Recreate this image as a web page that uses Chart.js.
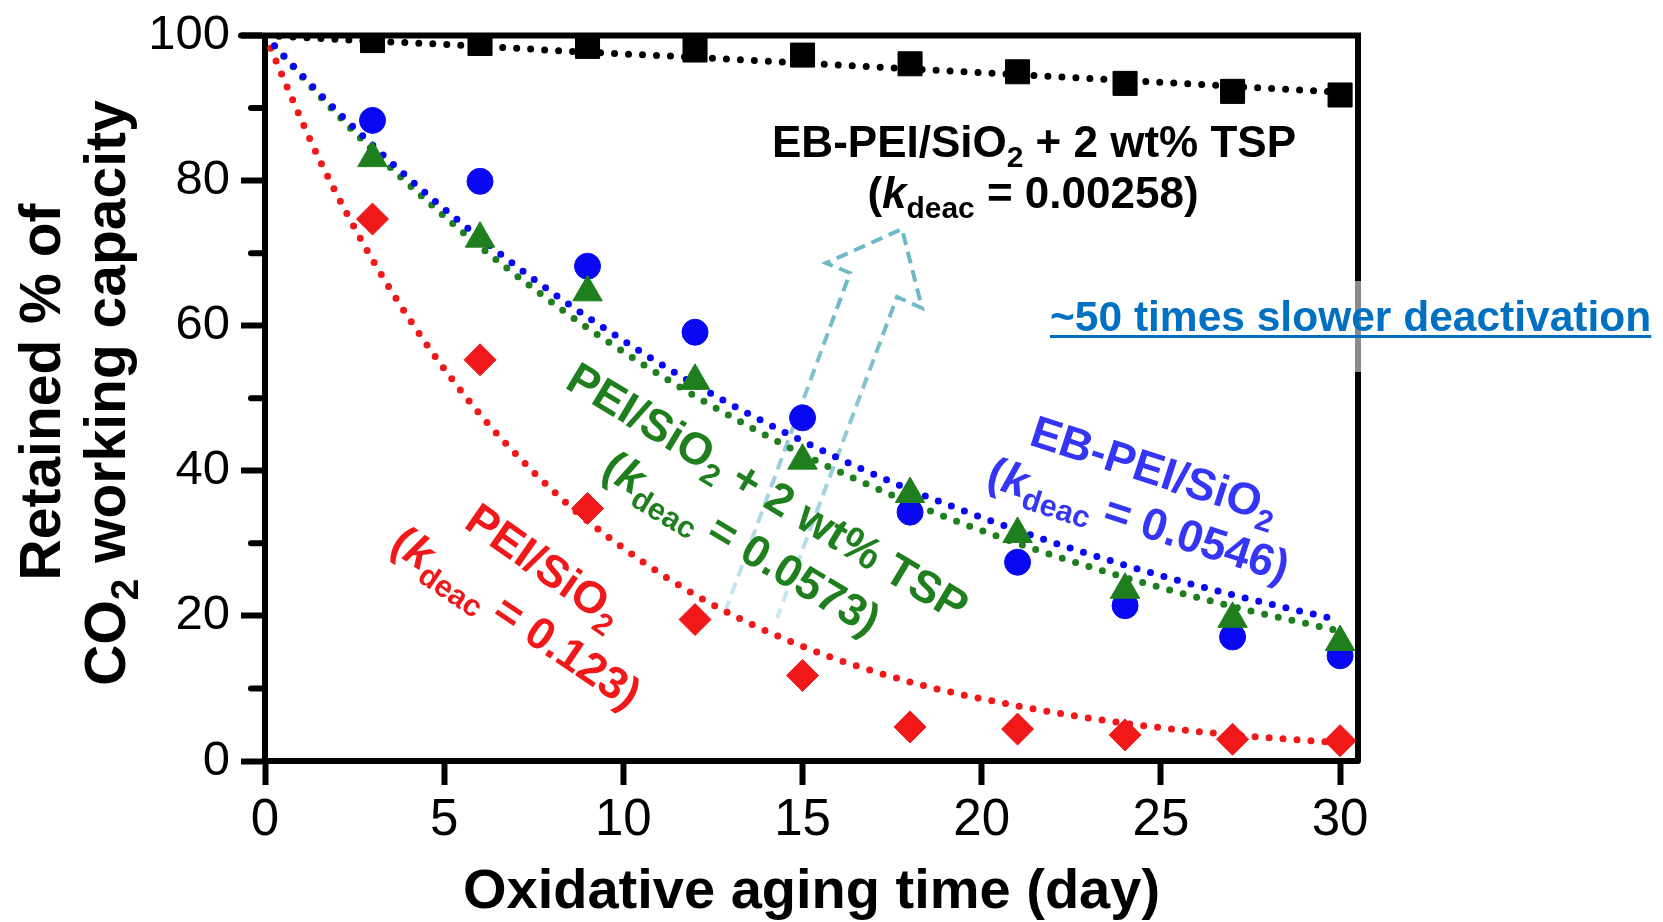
<!DOCTYPE html>
<html>
<head>
<meta charset="utf-8">
<script src="https://cdn.jsdelivr.net/npm/chart.js@4.4.1/dist/chart.umd.min.js"></script>
<style>
  body { margin: 0; background: #fff; }
  canvas { display: block; }
</style>
</head>
<body>
<canvas id="agingChart" width="1663" height="922"></canvas>
<script>
// Measured points (day 3..30)
const days = [3, 6, 9, 12, 15, 18, 21, 24, 27, 30];
const ebPeiTsp = [99.3, 98.9, 98.5, 98.0, 97.3, 96.1, 95.0, 93.4, 92.3, 91.8];
const ebPei = [88.3, 79.9, 68.2, 59.1, 47.3, 34.3, 27.4, 21.4, 17.1, 14.5];
const peiTsp = [83.1, 72.0, 64.6, 52.4, 41.4, 36.8, 31.3, 23.6, 19.6, 16.4];
const pei = [74.7, 55.3, 34.8, 19.5, 11.8, 4.7, 4.4, 3.6, 3.0, 2.8];

// Dotted fit curves
const fitDays = [0, 1.5, 3, 4.5, 6, 7.5, 9, 12, 15, 18, 21, 24, 27, 30];
const fitEbPeiTsp = [100, 99.6, 99.2, 98.9, 98.5, 98.1, 97.7, 97.0, 96.2, 95.4, 94.6, 93.8, 93.0, 92.2];
const fitEbPei = [100, 92.1, 84.9, 78.2, 72.1, 66.4, 61.2, 51.9, 44.1, 37.4, 31.8, 27.0, 22.9, 19.4];
const fitPeiTsp = [100, 91.8, 84.2, 77.3, 70.9, 65.1, 59.7, 50.3, 42.3, 35.6, 30.0, 25.3, 21.3, 17.9];
const fitPei = [100, 83.1, 69.1, 57.5, 47.8, 39.8, 33.1, 22.9, 15.8, 10.9, 7.6, 5.2, 3.6, 2.5];

const xTicks = [0, 5, 10, 15, 20, 25, 30];
const yTicks = [0, 20, 40, 60, 80, 100];
const yMinorTicks = [10, 30, 50, 70, 90];

const FONT = '"Liberation Sans", Arial, sans-serif';
const RED = "#f01818";
const BLUE = "#0808f2";
const GREEN = "#1f7f1f";

const pts = (xs, ys) => xs.map((x, i) => ({ x: x, y: ys[i] }));

function fitLine(xs, ys, color) {
  return {
    data: pts(xs, ys),
    borderColor: color,
    borderWidth: 7,
    borderDash: [0, 14],
    borderCapStyle: "round",
    pointRadius: 0,
    cubicInterpolationMode: "monotone",
    fill: false,
    order: 10,
  };
}

function markers(ys, color, style, radius, order) {
  return {
    data: pts(days, ys),
    showLine: false,
    pointStyle: style,
    pointRadius: radius,
    pointBackgroundColor: color,
    pointBorderColor: color,
    pointBorderWidth: 1,
    order: order,
  };
}

// text with subscripts / italics, centred on (x, y) baseline, rotated
function drawRich(ctx, runs, x, y, size, color, angle) {
  ctx.save();
  ctx.translate(x, y);
  ctx.rotate((angle * Math.PI) / 180);
  ctx.fillStyle = color;
  ctx.textBaseline = "alphabetic";
  ctx.textAlign = "left";
  const fontFor = (r) =>
    (r.it ? "italic " : "") + "bold " + (r.sub ? size * 0.68 : size) + "px " + FONT;
  let total = 0;
  runs.forEach((r) => {
    ctx.font = fontFor(r);
    total += ctx.measureText(r.t).width;
  });
  let cx = -total / 2;
  runs.forEach((r) => {
    ctx.font = fontFor(r);
    ctx.fillText(r.t, cx, r.sub ? size * 0.22 : 0);
    cx += ctx.measureText(r.t).width;
  });
  ctx.restore();
}

const kRuns = (val) => [
  { t: "(" },
  { t: "k", it: true },
  { t: "deac", sub: true },
  { t: " = " + val + ")" },
];

const decor = {
  id: "decor",
  beforeDatasetsDraw(chart) {
    const ctx = chart.ctx;
    // hollow dashed arrow
    const grad = ctx.createLinearGradient(0, 620, 0, 300);
    grad.addColorStop(0, "rgba(200,232,240,0.9)");
    grad.addColorStop(0.5, "rgba(150,205,218,1)");
    grad.addColorStop(1, "rgb(110,185,200)");
    ctx.save();
    ctx.strokeStyle = grad;
    ctx.lineWidth = 4;
    ctx.setLineDash([12, 7]);
    ctx.beginPath();
    ctx.moveTo(725, 612);
    ctx.lineTo(850, 273);
    ctx.lineTo(826, 263);
    ctx.lineTo(902, 229);
    ctx.lineTo(922, 308);
    ctx.lineTo(897, 297);
    ctx.lineTo(777, 618);
    ctx.stroke();
    ctx.restore();
  },
  afterDatasetsDraw(chart) {
    const ctx = chart.ctx;
    const a = chart.chartArea;
    const ys = chart.scales.y;

    // frame (top + right)
    ctx.save();
    ctx.strokeStyle = "#000";
    ctx.lineWidth = 6;
    ctx.lineCap = "round";
    ctx.beginPath();
    ctx.moveTo(a.left - 24, a.top);
    ctx.lineTo(a.right, a.top);
    ctx.lineTo(a.right, a.bottom);
    ctx.stroke();
    // minor y ticks
    yMinorTicks.forEach((v) => {
      const py = ys.getPixelForValue(v);
      ctx.beginPath();
      ctx.moveTo(a.left, py);
      ctx.lineTo(a.left - 14, py);
      ctx.stroke();
    });
    // grey patch on right frame behind the note
    ctx.lineCap = "butt";
    ctx.strokeStyle = "#8a8a8a";
    ctx.beginPath();
    ctx.moveTo(a.right, 281);
    ctx.lineTo(a.right, 372);
    ctx.stroke();
    ctx.restore();

    // y title (two lines, rotated)
    drawRich(ctx, [{ t: "Retained % of" }], 60, 392, 57, "#000", -90);
    drawRich(ctx, [{ t: "CO" }, { t: "2", sub: true }, { t: " working capacity" }], 125, 393, 57, "#000", -90);

    // series annotations
    drawRich(ctx, [{ t: "EB-PEI/SiO" }, { t: "2", sub: true }, { t: " + 2 wt% TSP" }], 1034, 157, 44, "#000", 0);
    drawRich(ctx, kRuns("0.00258"), 1033, 208, 44, "#000", 0);

    drawRich(ctx, [{ t: "EB-PEI/SiO" }, { t: "2", sub: true }], 1150, 484, 45, "#3535f5", 18);
    drawRich(ctx, kRuns("0.0546"), 1134, 534, 45, "#3535f5", 18);

    drawRich(ctx, [{ t: "PEI/SiO" }, { t: "2", sub: true }, { t: " + 2 wt% TSP" }], 760, 505, 45, GREEN, 31);
    drawRich(ctx, kRuns("0.0573"), 734, 556, 45, GREEN, 31);

    drawRich(ctx, [{ t: "PEI/SiO" }, { t: "2", sub: true }], 536, 578, 45, RED, 35);
    drawRich(ctx, kRuns("0.123"), 508, 630, 45, RED, 34);

    // blue underlined note
    ctx.save();
    ctx.font = "bold 42.5px " + FONT;
    ctx.fillStyle = "#0070c0";
    ctx.textAlign = "left";
    ctx.textBaseline = "alphabetic";
    const note = "~50 times slower deactivation";
    ctx.fillText(note, 1050, 331);
    const w = ctx.measureText(note).width;
    ctx.fillRect(1050, 335, w, 3);
    ctx.restore();
  },
};

const ctx = document.getElementById("agingChart").getContext("2d");

const agingChart = new Chart(ctx, {
  type: "line",
  data: {
    datasets: [
      markers(ebPeiTsp, "#000", "rect", 17, 0),
      markers(peiTsp, GREEN, "triangle", 17, 1),
      markers(ebPei, BLUE, "circle", 13, 2),
      markers(pei, RED, "rectRot", 16, 3),
      fitLine(fitDays, fitEbPeiTsp, "#000"),
      fitLine(fitDays, fitEbPei, BLUE),
      fitLine(fitDays, fitPeiTsp, GREEN),
      fitLine(fitDays, fitPei, RED),
    ],
  },
  options: {
    responsive: false,
    animation: false,
    devicePixelRatio: 1,
    layout: { padding: { top: 29, right: 305, left: 0, bottom: 0 } },
    plugins: {
      legend: { display: false },
      tooltip: { enabled: false },
    },
    scales: {
      x: {
        type: "linear",
        min: 0,
        max: 30.5,
        afterFit: (scale) => { scale.height = 161; },
        afterBuildTicks: (scale) => { scale.ticks = xTicks.map((v) => ({ value: v })); },
        ticks: {
          color: "#000",
          font: { family: FONT, size: 51, lineHeight: 1 },
          padding: 10,
          maxRotation: 0,
        },
        grid: {
          drawOnChartArea: false,
          drawTicks: true,
          tickLength: 24,
          tickWidth: 6,
          tickColor: "#000",
        },
        border: { display: true, width: 6, color: "#000" },
        title: {
          display: true,
          text: "Oxidative aging time (day)",
          color: "#000",
          font: { family: FONT, size: 56, weight: "bold" },
          padding: { top: 0, bottom: -4 },
        },
      },
      y: {
        min: 0,
        max: 100,
        afterFit: (scale) => { scale.width = 265; },
        afterBuildTicks: (scale) => { scale.ticks = yTicks.map((v) => ({ value: v })); },
        ticks: {
          color: "#000",
          font: { family: FONT, size: 49, lineHeight: 1 },
          padding: 11,
        },
        grid: {
          drawOnChartArea: false,
          drawTicks: true,
          tickLength: 24,
          tickWidth: 6,
          tickColor: "#000",
        },
        border: { display: true, width: 6, color: "#000" },
      },
    },
  },
  plugins: [decor],
});
</script>
</body>
</html>
